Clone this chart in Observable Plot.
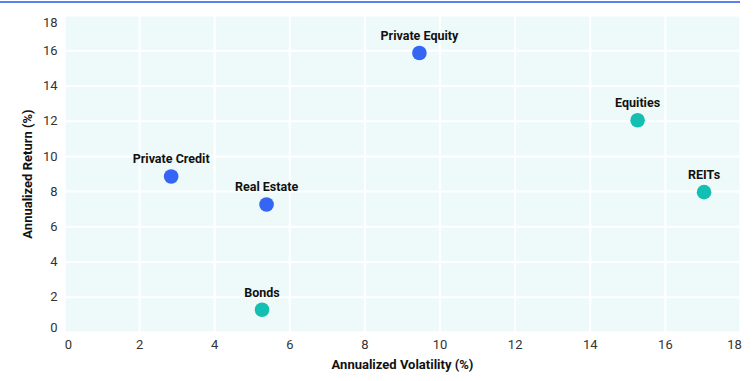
<!DOCTYPE html>
<html>
<head>
<meta charset="utf-8">
<script src="https://cdn.jsdelivr.net/npm/d3@7"></script>
<script src="https://cdn.jsdelivr.net/npm/@observablehq/plot@0.6"></script>
<style>
  html, body { margin: 0; padding: 0; background: #fff; }
  #wrap { position: relative; width: 756px; height: 381px; }
  #topline { position: absolute; left: 0; top: 1px; width: 740px; height: 2px; background: #5b7ff7; }
</style>
</head>
<body>
<div id="wrap"><div id="topline"></div></div>
<script>
const assets = ["Private Credit", "Real Estate", "Bonds", "Private Equity", "Equities", "REITs"];
const volatility = [2.84, 5.38, 5.26, 9.45, 15.26, 17.03];
const annualReturn = [8.86, 7.27, 1.29, 15.87, 12.05, 7.97];
const assetGroup = ["Private", "Private", "Public", "Private", "Public", "Public"];
const xTicks = [0, 2, 4, 6, 8, 10, 12, 14, 16, 18];
const yTicks = [0, 2, 4, 6, 8, 10, 12, 14, 16, 18];

const data = assets.map((a, i) => ({
  asset: a, vol: volatility[i], ret: annualReturn[i], group: assetGroup[i]
}));

const font = "Roboto, 'Noto Sans', sans-serif";
const xInner = xTicks.slice(1, -1), yInner = yTicks.slice(1, -1);
const xFirst = [xTicks[0]], xLast = [xTicks[xTicks.length - 1]];
const yFirst = [yTicks[0]], yLast = [yTicks[yTicks.length - 1]];
const tickX = { tickSize: 0, tickPadding: 7, fontSize: 13, fill: "#333", label: null };
const tickY = { tickSize: 0, tickPadding: 7, fontSize: 13, fill: "#333", label: null };

const chart = Plot.plot({
  width: 756,
  height: 381,
  marginLeft: 64,
  marginRight: 16,
  marginTop: 15,
  marginBottom: 49,
  style: { fontFamily: font, fontSize: "13px", color: "#222", background: "transparent" },
  x: { domain: [0, 18], ticks: xTicks, label: "Annualized Volatility (%)", labelAnchor: "center", labelArrow: "none" },
  y: { domain: [0, 18], ticks: yTicks, label: "Annualized Return (%)", labelAnchor: "center", labelArrow: "none" },
  color: { domain: ["Private", "Public"], range: ["#3565f5", "#13bfb0"] },
  marks: [
    Plot.frame({ fill: "#eefafa", stroke: null }),
    Plot.gridX(xTicks, { stroke: "#ffffff", strokeOpacity: 1, strokeWidth: 2 }),
    Plot.gridY(yTicks, { stroke: "#ffffff", strokeOpacity: 1, strokeWidth: 2 }),
    Plot.axisX(xInner, tickX),
    Plot.axisX(xFirst, { ...tickX, dx: 4 }),
    Plot.axisX(xLast, { ...tickX, dx: -6 }),
    Plot.axisX({ ticks: [], tickSize: 0, label: "Annualized Volatility (%)", labelAnchor: "center", labelOffset: 36, labelArrow: "none", fontSize: 13 }),
    Plot.axisY(yInner, tickY),
    Plot.axisY(yFirst, { ...tickY, dy: -5 }),
    Plot.axisY(yLast, { ...tickY, dy: 7 }),
    Plot.axisY({ ticks: [], tickSize: 0, label: "Annualized Return (%)", labelAnchor: "center", labelOffset: 42, labelArrow: "none", fontSize: 13 }),
    Plot.dot(data, { x: "vol", y: "ret", r: 7.3, fill: "group", stroke: "none" }),
    Plot.text(data, { x: "vol", y: "ret", text: "asset", dy: -17, fontWeight: "bold", fontSize: 12.5, fill: "#111" })
  ]
});

chart.querySelectorAll('[aria-label="x-axis label"] text, [aria-label="y-axis label"] text').forEach(t => {
  t.setAttribute("font-weight", "bold");
  t.setAttribute("fill", "#111");
});

document.getElementById("wrap").appendChild(chart);
</script>
</body>
</html>
